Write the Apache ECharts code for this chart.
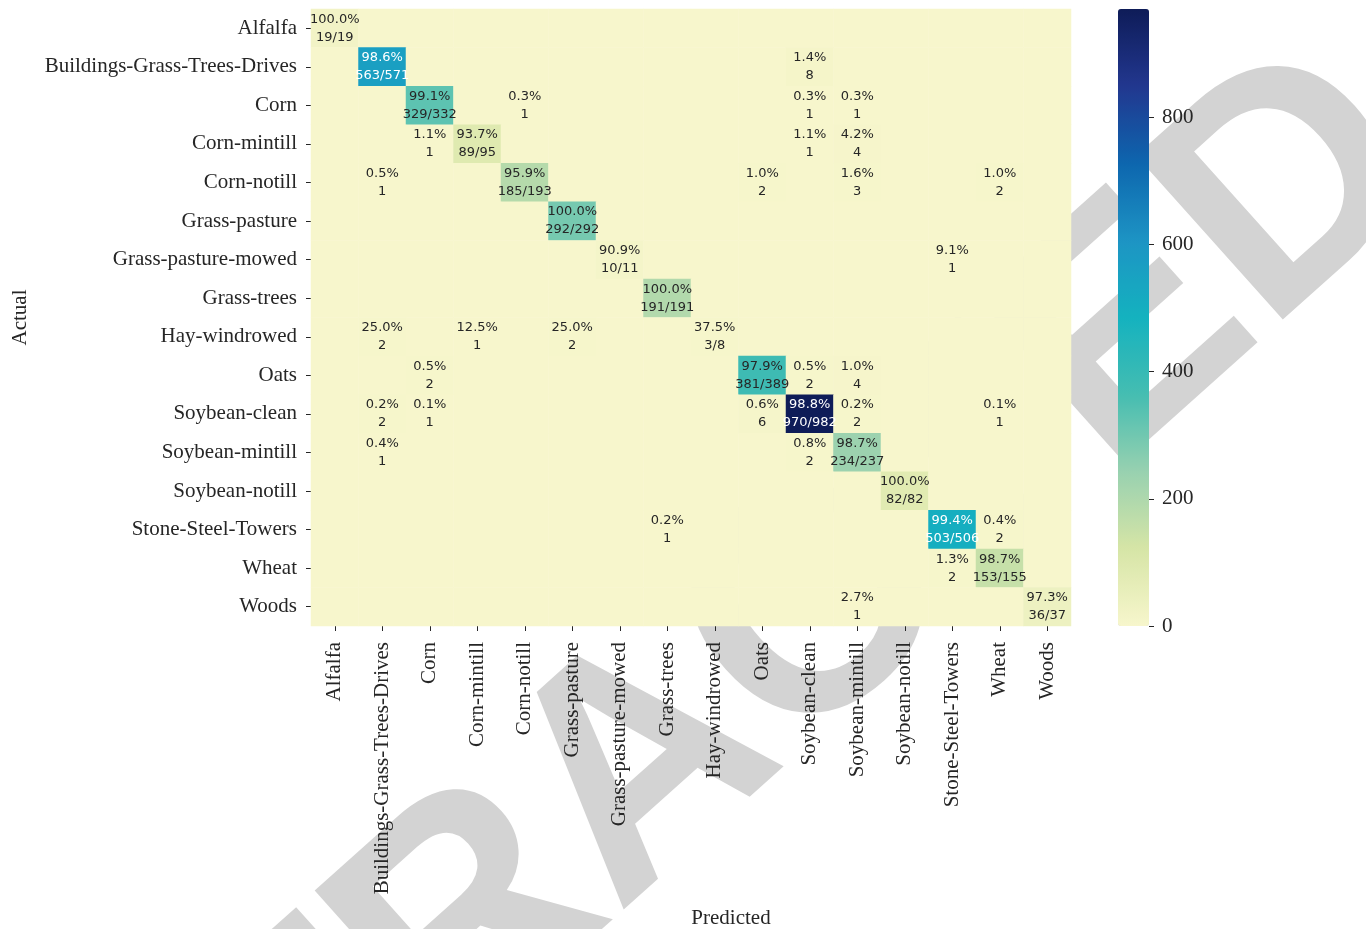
<!DOCTYPE html>
<html>
<head>
<meta charset="utf-8">
<title>Confusion matrix</title>
<script src="https://cdn.jsdelivr.net/npm/echarts@6/dist/echarts.min.js"></script>
<style>
    html, body { margin: 0; background: #fff; }
    #main { width: 1366px; height: 929px; }
</style>
</head>
<body>
<div id="main"></div>
<script>
    // class names (rows = actual, columns = predicted)
    const classes = [
        'Alfalfa', 'Buildings-Grass-Trees-Drives', 'Corn', 'Corn-mintill',
        'Corn-notill', 'Grass-pasture', 'Grass-pasture-mowed', 'Grass-trees',
        'Hay-windrowed', 'Oats', 'Soybean-clean', 'Soybean-mintill',
        'Soybean-notill', 'Stone-Steel-Towers', 'Wheat', 'Woods'
    ]
    // counts[actual][predicted]
    const counts = [
        [19, 0, 0, 0, 0, 0, 0, 0, 0, 0, 0, 0, 0, 0, 0, 0],
        [0, 563, 0, 0, 0, 0, 0, 0, 0, 0, 8, 0, 0, 0, 0, 0],
        [0, 0, 329, 0, 1, 0, 0, 0, 0, 0, 1, 1, 0, 0, 0, 0],
        [0, 0, 1, 89, 0, 0, 0, 0, 0, 0, 1, 4, 0, 0, 0, 0],
        [0, 1, 0, 0, 185, 0, 0, 0, 0, 2, 0, 3, 0, 0, 2, 0],
        [0, 0, 0, 0, 0, 292, 0, 0, 0, 0, 0, 0, 0, 0, 0, 0],
        [0, 0, 0, 0, 0, 0, 10, 0, 0, 0, 0, 0, 0, 1, 0, 0],
        [0, 0, 0, 0, 0, 0, 0, 191, 0, 0, 0, 0, 0, 0, 0, 0],
        [0, 2, 0, 1, 0, 2, 0, 0, 3, 0, 0, 0, 0, 0, 0, 0],
        [0, 0, 2, 0, 0, 0, 0, 0, 0, 381, 2, 4, 0, 0, 0, 0],
        [0, 2, 1, 0, 0, 0, 0, 0, 0, 6, 970, 2, 0, 0, 1, 0],
        [0, 1, 0, 0, 0, 0, 0, 0, 0, 0, 2, 234, 0, 0, 0, 0],
        [0, 0, 0, 0, 0, 0, 0, 0, 0, 0, 0, 0, 82, 0, 0, 0],
        [0, 0, 0, 0, 0, 0, 0, 1, 0, 0, 0, 0, 0, 503, 2, 0],
        [0, 0, 0, 0, 0, 0, 0, 0, 0, 0, 0, 0, 0, 2, 153, 0],
        [0, 0, 0, 0, 0, 0, 0, 0, 0, 0, 0, 1, 0, 0, 0, 36]
    ]
    const colorTickStep = 200
    const colorMax = 970
    const colorAxisMax = 1000

    const myChart = echarts.init(document.getElementById('main'))

    const serif = 'Liberation Serif'
    const textColor = '#262626'
    const hidden = 'rgba(0,0,0,0)'
    // YlGnBu-like colours as they appear in the figure
    const palette = ['#f7f6cc', '#d6e5a6', '#98d1b0', '#45bdb1', '#14b2bf', '#1d94c4', '#0d66ae', '#22378f', '#0e1c58']

    // plot box and colour bar box
    const plot = { left: 311, top: 9, width: 760, height: 617 }
    const bar = { left: 1118, width: 31 }
    // the colour bar axis runs to 1000 so that 970 lands on the top of the bar
    const barAxisHeight = plot.height * colorAxisMax / colorMax
    const barAxisTop = plot.top + plot.height - barAxisHeight

    let data = []
    for (let i = 0; i < counts.length; i++) {
        const total = counts[i].reduce((a, b) => a + b, 0)
        for (let j = 0; j < counts[i].length; j++) {
            const c = counts[i][j]
            let text = ''
            if (c > 0) {
                const pct = (c / total * 100).toFixed(1) + '%'
                text = i === j ? pct + '\n' + c + '/' + total : pct + '\n' + c
            }
            data.push({
                value: [j, i, c],
                label: {
                    formatter: text,
                    color: c > 450 ? '#ffffff' : textColor
                }
            })
        }
    }

    const option = {
        backgroundColor: '#fff',
        animation: false,
        // watermark behind the plot
        graphic: [
            {
                type: 'text',
                z: -10,
                x: 645,
                y: 772,
                rotation: 0.73,
                silent: true,
                style: {
                    text: 'RETRACTED',
                    fontSize: 320,
                    fontWeight: 'bold',
                    fontFamily: 'Liberation Sans',
                    fill: '#d3d3d3',
                    textAlign: 'center',
                    textVerticalAlign: 'middle'
                }
            }
        ],
        grid: [
            { left: plot.left, top: plot.top, width: plot.width, height: plot.height, outerBoundsMode: 'none' },
            { left: bar.left, top: barAxisTop, width: bar.width, height: barAxisHeight, outerBoundsMode: 'none' }
        ],
        xAxis: [
            {
                type: 'category',
                data: classes,
                gridIndex: 0,
                name: 'Predicted',
                nameLocation: 'middle',
                nameGap: 282,
                nameTextStyle: { fontFamily: serif, fontSize: 21, color: textColor, padding: [0, 0, 0, 80] },
                axisLine: { show: true, lineStyle: { color: hidden } },
                axisTick: { show: true, alignWithLabel: true, length: 5, lineStyle: { color: textColor } },
                axisLabel: { rotate: 90, margin: 16, fontFamily: serif, fontSize: 21, color: textColor },
                splitLine: { show: false }
            },
            {
                type: 'value', gridIndex: 1, min: 0, max: 1,
                axisLine: { show: false }, axisTick: { show: false },
                axisLabel: { show: false }, splitLine: { show: false }
            }
        ],
        yAxis: [
            {
                type: 'category',
                data: classes,
                inverse: true,
                gridIndex: 0,
                name: 'Actual',
                nameLocation: 'middle',
                nameRotate: 90,
                nameGap: 280,
                nameTextStyle: { fontFamily: serif, fontSize: 21, color: textColor },
                axisLine: { show: true, lineStyle: { color: hidden } },
                axisTick: { show: true, alignWithLabel: true, length: 5, lineStyle: { color: textColor } },
                axisLabel: { margin: 14, fontFamily: serif, fontSize: 21, color: textColor },
                splitLine: { show: false }
            },
            {
                // colour bar scale
                type: 'value',
                gridIndex: 1,
                position: 'right',
                z: 10,
                min: 0,
                max: colorAxisMax,
                interval: colorTickStep,
                axisLine: { show: true, onZero: false, lineStyle: { color: hidden } },
                axisTick: { show: true, inside: false, length: 5, lineStyle: { color: textColor } },
                axisLabel: {
                    margin: 13, fontFamily: serif, fontSize: 21, color: textColor,
                    formatter: (v) => (v > colorMax ? '' : v)
                },
                splitLine: { show: false }
            }
        ],
        visualMap: {
            type: 'continuous',
            min: 0,
            max: colorMax,
            seriesIndex: 0,
            calculable: false,
            orient: 'vertical',
            left: bar.left,
            top: plot.top,
            padding: 0,
            itemWidth: bar.width,
            itemHeight: plot.height,
            inRange: { color: palette }
        },
        series: [
            {
                type: 'heatmap',
                xAxisIndex: 0,
                yAxisIndex: 0,
                data: data,
                label: {
                    show: true,
                    fontFamily: 'DejaVu Sans',
                    fontSize: 13,
                    lineHeight: 18
                },
                emphasis: { disabled: true }
            }
        ]
    }
    myChart.setOption(option)
</script>
</body>
</html>
